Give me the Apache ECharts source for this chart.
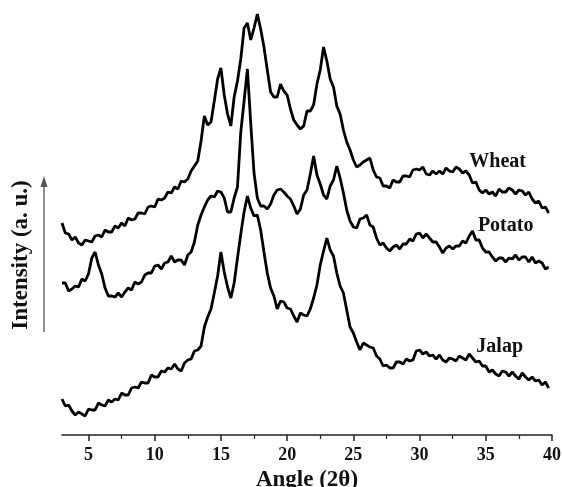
<!DOCTYPE html>
<html>
<head>
<meta charset="utf-8">
<script src="https://cdn.jsdelivr.net/npm/echarts@6/dist/echarts.min.js"></script>
<style>
  html, body { margin: 0; padding: 0; background: #fff; }
  #chart { width: 562px; height: 487px; }
</style>
</head>
<body>
<div id="chart"></div>
<script>
// 2-theta grid (degrees), one row per degree
var angles = [
  3, 3.25, 3.5, 3.75, 4, 4.25, 4.5, 4.75, 5, 5.25, 5.5, 5.75,
  6, 6.25, 6.5, 6.75, 7, 7.25, 7.5, 7.75, 8, 8.25, 8.5, 8.75,
  9, 9.25, 9.5, 9.75, 10, 10.25, 10.5, 10.75, 11, 11.25, 11.5, 11.75,
  12, 12.25, 12.5, 12.75, 13, 13.25, 13.5, 13.75, 14, 14.25, 14.5, 14.75,
  15, 15.25, 15.5, 15.75, 16, 16.25, 16.5, 16.75, 17, 17.25, 17.5, 17.75,
  18, 18.25, 18.5, 18.75, 19, 19.25, 19.5, 19.75, 20, 20.25, 20.5, 20.75,
  21, 21.25, 21.5, 21.75, 22, 22.25, 22.5, 22.75, 23, 23.25, 23.5, 23.75,
  24, 24.25, 24.5, 24.75, 25, 25.25, 25.5, 25.75, 26, 26.25, 26.5, 26.75,
  27, 27.25, 27.5, 27.75, 28, 28.25, 28.5, 28.75, 29, 29.25, 29.5, 29.75,
  30, 30.25, 30.5, 30.75, 31, 31.25, 31.5, 31.75, 32, 32.25, 32.5, 32.75,
  33, 33.25, 33.5, 33.75, 34, 34.25, 34.5, 34.75, 35, 35.25, 35.5, 35.75,
  36, 36.25, 36.5, 36.75, 37, 37.25, 37.5, 37.75, 38, 38.25, 38.5, 38.75,
  39, 39.25, 39.5, 39.75
];

// intensities (a.u., curves already stacked as in the figure)
var wheat = [
  212, 202, 201, 195,  198, 192, 190, 195,  194, 193, 199, 200,
  198, 205, 203, 203,  209, 207, 212, 209,  217, 215, 216, 222,
  222, 221, 228, 229,  228, 236, 235, 237,  243, 242, 248, 246,
  254, 253, 256, 264,  269, 274, 294, 319,  310, 313, 334, 356,
  367, 340, 321, 309,  338, 354, 376, 407,  412, 395, 407, 421,
  406, 388, 365, 343,  338, 338, 351, 344,  340, 326, 315, 310,
  306, 309, 324, 324,  330, 351, 365, 388,  374, 356, 348, 329,
  321, 305, 293, 285,  275, 268, 270, 273,  275, 277, 265, 258,
  257, 249, 249, 247,  255, 253, 253, 259,  259, 258, 265, 266,
  265, 268, 261, 260,  264, 261, 264, 261,  267, 264, 263, 268,
  266, 262, 264, 260,  252, 253, 245, 242,  245, 241, 243, 239,
  246, 243, 243, 247,  245, 241, 245, 244,  240, 243, 236, 232,
  234, 227, 228, 222
];

var potato = [
  152, 152, 144, 146,  149, 148, 156, 154,  161, 177, 183, 170,
  161, 147, 139, 139,  138, 142, 138, 143,  147, 145, 153, 151,
  153, 160, 162, 162,  169, 170, 166, 172,  173, 179, 173, 175,
  175, 170, 180, 183,  193, 210, 220, 228,  235, 239, 238, 244,
  243, 237, 223, 223,  237, 248, 303, 334,  366, 312, 262, 237,
  229, 229, 226, 231,  240, 245, 246, 243,  239, 236, 229, 221,
  226, 240, 245, 261,  279, 260, 251, 240,  236, 249, 255, 269,
  257, 242, 225, 214,  208, 207, 216, 217,  220, 210, 208, 197,
  190, 192, 187, 184,  188, 190, 186, 191,  191, 196, 194, 201,
  202, 197, 201, 197,  193, 193, 188, 182,  187, 189, 186, 189,
  189, 194, 192, 199,  204, 195, 195, 187,  183, 183, 178, 174,
  177, 177, 173, 177,  176, 180, 175, 178,  178, 173, 178, 172,
  174, 172, 166, 168
];

var jalap = [
  36, 29, 30, 24,  20, 23, 21, 19,  26, 25, 25, 32,
  30, 29, 35, 33,  36, 35, 42, 40,  40, 47, 48, 47,
  53, 52, 52, 60,  58, 58, 64, 63,  67, 66, 71, 66,
  64, 72, 75, 76,  84, 85, 89, 108,  118, 126, 142, 159,
  183, 163, 148, 137,  152, 177, 201, 223,  239, 227, 219, 220,
  205, 183, 162, 147,  139, 126, 134, 133,  127, 126, 119, 113,
  122, 120, 119, 126,  137, 150, 170, 184,  197, 185, 179, 162,
  149, 142, 125, 108,  102, 93, 85, 92,  90, 88, 87, 79,
  76, 69, 70, 67,  67, 73, 73, 71,  76, 74, 75, 84,
  85, 81, 83, 79,  80, 76, 80, 75,  73, 77, 76, 74,
  79, 77, 75, 81,  77, 73, 74, 69,  69, 63, 65, 61,
  59, 64, 63, 59,  63, 59, 56, 62,  58, 55, 58, 54,
  55, 50, 53, 47
];

var tickValues = [5, 10, 15, 20, 25, 30, 35, 40];
var minorValues = [7.5, 12.5, 17.5, 22.5, 27.5, 32.5, 37.5];

// curve name labels: [angle, intensity]
var labelNames = ["Wheat", "Potato", "Jalap"];
var labelSpots = [[35.9, 273], [36.5, 209], [36.05, 88]];

var font = "Liberation Serif";

function pairs(ys) {
  return angles.map(function (a, i) {
    return [a, ys[i]];
  });
}

function curve(name, ys, idx) {
  return {
    name: name,
    type: "line",
    data: pairs(ys),
    showSymbol: false,
    lineStyle: { color: "#000", width: 2.8 },
    markPoint: {
      symbol: "circle",
      symbolSize: 1,
      itemStyle: { color: "rgba(0,0,0,0)" },
      label: {
        show: true,
        position: "inside",
        formatter: "{b}",
        color: "#111",
        fontFamily: font,
        fontWeight: "bold",
        fontSize: 20,
      },
      data: [{ name: labelNames[idx], coord: labelSpots[idx] }],
    },
  };
}

var chartDom = document.getElementById("chart");
var myChart = echarts.init(chartDom);
var option;

option = {
  animation: false,
  grid: {
    left: 62,
    right: 10,
    top: 0,
    bottom: 52,
    containLabel: false,
    outerBoundsMode: "none",
  },
  xAxis: [
    {
      type: "value",
      min: 3,
      max: 40,
      name: "Angle (2θ)",
      nameLocation: "middle",
      nameGap: 29,
      nameTextStyle: {
        color: "#111",
        fontFamily: font,
        fontWeight: "bold",
        fontSize: 23,
      },
      axisLine: { show: true, lineStyle: { color: "#222", width: 1.5 } },
      axisTick: {
        show: true,
        length: 6,
        customValues: tickValues,
        lineStyle: { color: "#222", width: 1.5 },
      },
      axisLabel: {
        customValues: tickValues,
        margin: 11,
        color: "#111",
        fontFamily: font,
        fontWeight: "bold",
        fontSize: 18,
      },
      splitLine: { show: false },
    },
    {
      type: "value",
      min: 3,
      max: 40,
      position: "bottom",
      axisLine: { show: false },
      axisTick: {
        show: true,
        length: 4,
        customValues: minorValues,
        lineStyle: { color: "#222", width: 1.2 },
      },
      axisLabel: { show: false },
      splitLine: { show: false },
    },
  ],
  yAxis: {
    type: "value",
    min: 0,
    max: 435,
    show: false,
  },
  graphic: [
    {
      type: "text",
      x: 21,
      y: 255,
      rotation: Math.PI / 2,
      style: {
        text: "Intensity (a. u.)",
        fill: "#111",
        font: "bold 23px 'Liberation Serif'",
        textAlign: "center",
        textVerticalAlign: "middle",
      },
    },
    {
      type: "line",
      shape: { x1: 44, y1: 332, x2: 44, y2: 184 },
      style: { stroke: "#555", lineWidth: 1.3 },
    },
    {
      type: "polygon",
      shape: { points: [[44, 176], [40.5, 187], [47.5, 187]] },
      style: { fill: "#555" },
    },
  ],
  series: [
    curve("Wheat", wheat, 0),
    curve("Potato", potato, 1),
    curve("Jalap", jalap, 2),
  ],
};

option && myChart.setOption(option);
</script>
</body>
</html>
